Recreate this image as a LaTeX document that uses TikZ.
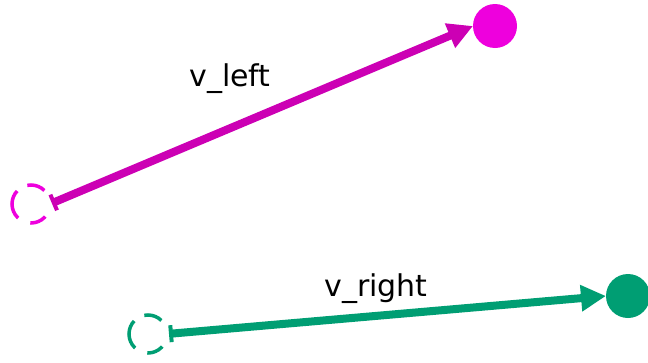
\documentclass[tikz,border=0pt]{standalone}
\usepackage{fontspec}
\setmainfont{DejaVu Sans}
\usetikzlibrary{arrows.meta}
\definecolor{magline}{RGB}{204,0,180}
\definecolor{magdot}{RGB}{238,0,221}
\definecolor{grn}{RGB}{0,158,115}
\tikzset{
  startpt/.style={circle, draw=#1, dash pattern=on 0pt off 15pt on 18.5pt off 11.8pt on 30pt off 13.4pt on 16.8pt off 15pt, line width=3.5pt, minimum size=38pt, inner sep=0pt, outer sep=0pt},
  endpt/.style={circle, fill=#1, minimum size=44pt, inner sep=0pt, outer sep=0pt},
  vec/.style={draw=#1, line width=8pt, {Bar[width=17pt,line width=4pt]}-{Triangle[length=25pt,width=25pt]}, shorten <=2pt},
  lbl/.style={anchor=base, inner sep=0pt, font=\fontsize{30}{34}\selectfont}
}
\begin{document}
\begin{tikzpicture}[x=1pt,y=-1pt]
\useasboundingbox (0,0) rectangle (648,362);
\node[startpt=magdot] (ls) at (31,204) {};
\node[endpt=magdot] (le) at (495,26) {};
\draw[vec=magline] (ls.east) -- (le.west);
\node[lbl] (tl) at (230,86) {v\_left};
\node[startpt=grn] (rs) at (148,334) {};
\node[endpt=grn] (re) at (628,296) {};
\draw[vec=grn] (rs.east) -- (re.west);
\node[lbl] (tr) at (376,296) {v\_right};
\end{tikzpicture}
\end{document}
